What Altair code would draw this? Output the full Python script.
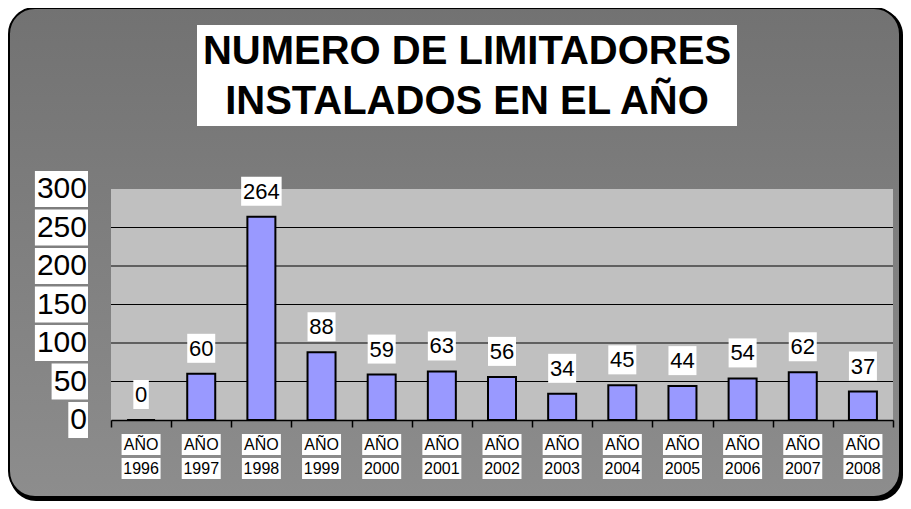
import altair as alt
import pandas as pd

years = ["1996", "1997", "1998", "1999", "2000", "2001", "2002",
         "2003", "2004", "2005", "2006", "2007", "2008"]
values = [0, 60, 264, 88, 59, 63, 56, 34, 45, 44, 54, 62, 37]
yticks = [0, 50, 100, 150, 200, 250, 300]
gridvals = [50, 100, 150, 200, 250]
title_lines = ["NUMERO DE LIMITADORES", "INSTALADOS EN EL AÑO"]

df = pd.DataFrame({"year": years, "value": values})
tick_df = pd.DataFrame({"v": yticks})
grid_df = pd.DataFrame({"v": gridvals})
one = alt.Data(values=[{}])

W, H = 782, 231
FONT = "Liberation Sans, Arial, Helvetica, sans-serif"

yscale = alt.Scale(domain=[0, 300], nice=False)
xscale = alt.Scale(paddingInner=0, paddingOuter=0)

# decorative panel
shadow = alt.Chart(one).mark_rect(color="black", cornerRadius=26).encode(
    x=alt.value(-101), x2=alt.value(792), y=alt.value(-180), y2=alt.value(312))
panel = alt.Chart(one).mark_rect(
    cornerRadius=26, stroke="black", strokeWidth=2,
    fill=alt.LinearGradient(gradient="linear",
                            stops=[alt.GradientStop(color="#727272", offset=0),
                                   alt.GradientStop(color="#8d8d8d", offset=1)],
                            x1=0, x2=0, y1=0, y2=1)
).encode(x=alt.value(-102), x2=alt.value(789), y=alt.value(-181), y2=alt.value(308))

title_box = alt.Chart(one).mark_rect(color="white").encode(
    x=alt.value(86), x2=alt.value(626), y=alt.value(-164), y2=alt.value(-63))
t1 = alt.Chart(one).mark_text(font=FONT, fontSize=40, fontWeight="bold", color="black",
                              align="center", baseline="middle").encode(
    x=alt.value(356), y=alt.value(-137), text=alt.value(title_lines[0]))
t2 = alt.Chart(one).mark_text(font=FONT, fontSize=40, fontWeight="bold", color="black",
                              align="center", baseline="middle").encode(
    x=alt.value(356), y=alt.value(-87), text=alt.value(title_lines[1]))

plot_bg = alt.Chart(one).mark_rect(color="#c0c0c0").encode(
    x=alt.value(0), x2=alt.value(W), y=alt.value(0), y2=alt.value(H))

grid = alt.Chart(grid_df).mark_rule(color="black", strokeWidth=1).encode(
    y=alt.Y("v:Q", scale=yscale, axis=None))

bars = alt.Chart(df).mark_bar(size=28, fill="#9999ff", stroke="black", strokeWidth=2).encode(
    x=alt.X("year:N", scale=xscale, sort=years,
            axis=alt.Axis(labels=False, title=None, tickBand="extent", domainColor="black",
                          tickColor="black", tickSize=7, domainWidth=1.5, tickWidth=1.5,
                          zindex=1)),
    y=alt.Y("value:Q", scale=yscale,
            axis=alt.Axis(values=yticks, labels=False, title=None, grid=False,
                          domainColor="black", tickColor="black", tickSize=10,
                          domainWidth=1.5, tickWidth=1.5, zindex=1)))

lab_box = alt.Chart(df).transform_calculate(
    bw="length(toString(datum.value)) * 12.5 + 3"
).mark_bar(color="white", yOffset=-40, y2Offset=-11).encode(
    x=alt.X("year:N", scale=xscale, sort=years),
    y=alt.Y("value:Q", scale=yscale),
    y2=alt.Y2("value:Q"),
    size=alt.Size("bw:Q", scale=None, legend=None))
lab_txt = alt.Chart(df).mark_text(font=FONT, fontSize=22, color="black", dy=-25,
                                  baseline="middle").encode(
    x=alt.X("year:N", scale=xscale, sort=years),
    y=alt.Y("value:Q", scale=yscale),
    text="value:Q")

ybox = alt.Chart(tick_df).transform_calculate(
    bx="-24 - length(toString(datum.v)) * 16.7 - 2"
).mark_rect(color="white", yOffset=-18, y2Offset=18).encode(
    x=alt.X("bx:Q", scale=None), x2=alt.value(-23),
    y=alt.Y("v:Q", scale=yscale), y2=alt.Y2("v:Q"))
ytxt = alt.Chart(tick_df).mark_text(font=FONT, fontSize=30, color="black",
                                    align="right", baseline="middle").encode(
    x=alt.value(-24), y=alt.Y("v:Q", scale=yscale), text="v:Q")

xbox1 = alt.Chart(df).mark_bar(size=39, color="white").encode(
    x=alt.X("year:N", scale=xscale, sort=years), y=alt.value(245), y2=alt.value(266))
xbox2 = alt.Chart(df).mark_bar(size=39, color="white").encode(
    x=alt.X("year:N", scale=xscale, sort=years), y=alt.value(269), y2=alt.value(290))
xtxt1 = alt.Chart(df).mark_text(font=FONT, fontSize=16, color="black", baseline="middle").encode(
    x=alt.X("year:N", scale=xscale, sort=years), y=alt.value(256), text=alt.value("AÑO"))
xtxt2 = alt.Chart(df).mark_text(font=FONT, fontSize=16, color="black", baseline="middle").encode(
    x=alt.X("year:N", scale=xscale, sort=years), y=alt.value(280), text="year:N")

chart = alt.layer(
    shadow, panel, title_box, t1, t2, plot_bg, grid, bars, lab_box, lab_txt,
    ybox, ytxt, xbox1, xbox2, xtxt1, xtxt2
).properties(
    width=W, height=H,
    autosize=alt.AutoSizeParams(type="none"),
    padding={"left": 103, "top": 181, "right": 10, "bottom": 81},
    background="white"
).configure_view(stroke=None)

chart.save("out.html", embed_options={"renderer": "svg", "actions": False})
